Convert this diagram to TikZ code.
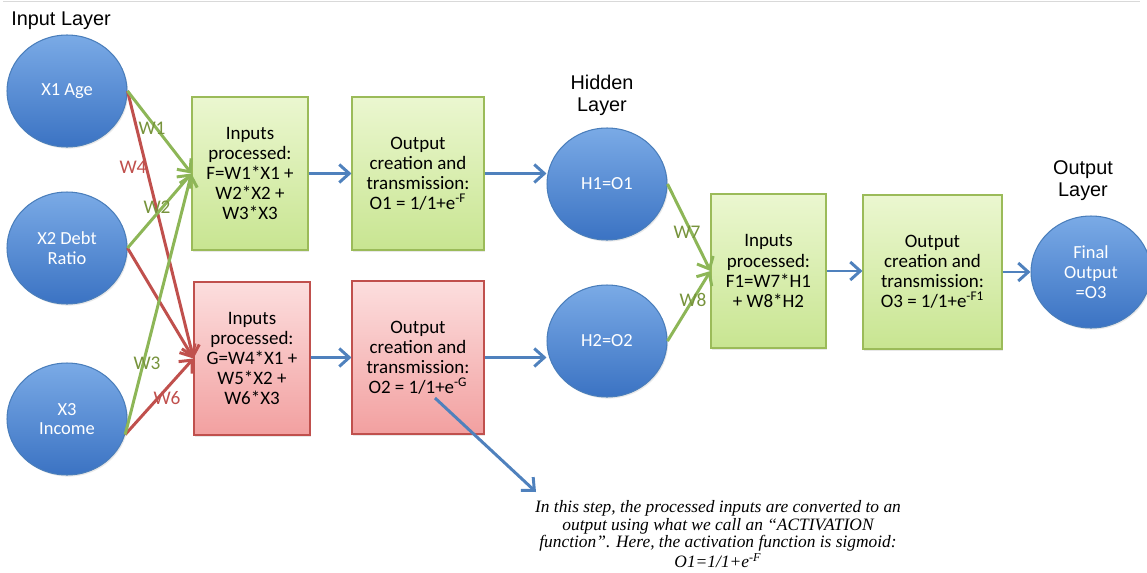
\documentclass[tikz,border=0pt]{standalone}
\usepackage{fontspec}
\setmainfont{Carlito}
\newfontfamily\headfont{Liberation Sans}
\newfontfamily\notefont{Liberation Serif}
\usetikzlibrary{arrows.meta,shapes.geometric,shadows}

\definecolor{neuronTop}{HTML}{7AAAE6}
\definecolor{neuronBot}{HTML}{3B73C3}
\definecolor{neuronLine}{HTML}{4A7EBB}
\definecolor{greenTop}{HTML}{EBF7D0}
\definecolor{greenBot}{HTML}{C8E591}
\definecolor{greenLine}{HTML}{9BBB59}
\definecolor{redTop}{HTML}{FCDEDE}
\definecolor{redBot}{HTML}{F2A0A0}
\definecolor{redLine}{HTML}{C0504D}
\definecolor{wGreen}{HTML}{8DB657}
\definecolor{wGreenText}{HTML}{77933C}
\definecolor{wRed}{HTML}{C0504D}
\definecolor{flowBlue}{HTML}{4F81BD}

\begin{document}
\begin{tikzpicture}[x=0.02cm,y=-0.02cm,
  soft shadow/.style={drop shadow={opacity=0.18,shadow xshift=0.7pt,shadow yshift=-0.9pt}},
  neuron/.style={ellipse, draw=neuronLine, line width=0.6pt,
    top color=neuronTop, bottom color=neuronBot,
    minimum width=2.4cm, minimum height=2.24cm, inner sep=0pt,
    text=white, align=center, font=\fontsize{10.5}{11.3}\selectfont, soft shadow},
  procbox/.style={rectangle, draw=greenLine, line width=0.6pt,
    top color=greenTop, bottom color=greenBot,
    minimum height=3.06cm, inner sep=0pt, align=center,
    font=\fontsize{10.8}{11.4}\selectfont, soft shadow},
  redbox/.style={procbox, draw=redLine, top color=redTop, bottom color=redBot},
  layer/.style={font=\headfont\fontsize{11.3}{12.6}\selectfont, align=center, inner sep=0pt},
  barb/.style={-{Straight Barb[length=2mm,width=3.6mm]}},
  flow/.style={draw=flowBlue, line width=1.7pt, barb},
  wgreen/.style={draw=wGreen, line width=1.7pt, barb},
  wred/.style={draw=wRed, line width=1.7pt, barb},
  wlabel/.style={font=\fontsize{11}{13}\selectfont, inner sep=0pt}
]
\path[use as bounding box] (0,0) rectangle (1147,572);
\clip (0,0) rectangle (1147,572);

% thin rule along the top
\draw[black!15, line width=0.8pt] (3,1.5) -- (1140,1.5);

% layer captions
\node[layer, anchor=west] (inlayer) at (11,21) {Input Layer};
\node[layer] (hidlayer) at (602,95) {Hidden\\Layer};
\node[layer] (outlayer) at (1083,181) {Output\\Layer};

% input neurons
\node[neuron] (x1) at (67,91)  {X1 Age};
\node[neuron] (x2) at (67,248) {X2 Debt\\Ratio};
\node[neuron] (x3) at (67,419) {X3\\Income};

% first processing stage
\node[procbox, minimum width=2.32cm] (g1) at (250,173.5)
  {Inputs\\processed:\\F=W1*X1 +\\W2*X2 +\\W3*X3};
\node[redbox, minimum width=2.32cm] (r1) at (252,358.5)
  {Inputs\\processed:\\G=W4*X1 +\\W5*X2 +\\W6*X3};
\node[procbox, minimum width=2.64cm] (g2) at (418,173.5)
  {Output\\creation and\\transmission:\\O1 = 1/1+e\textsuperscript{-F}};
\node[redbox, minimum width=2.64cm] (r2) at (418,357.5)
  {Output\\creation and\\transmission:\\O2 = 1/1+e\textsuperscript{-G}};

% hidden neurons
\node[neuron] (h1) at (607,184) {H1=O1};
\node[neuron] (h2) at (607,341) {H2=O2};

% second processing stage
\node[procbox, minimum width=2.3cm, minimum height=3.08cm] (g3) at (768.5,271)
  {Inputs\\processed:\\F1=W7*H1\\+ W8*H2};
\node[procbox, minimum width=2.78cm, minimum height=3.08cm] (g4) at (932.5,272)
  {Output\\creation and\\transmission:\\O3 = 1/1+e\textsuperscript{-F1}};

% output neuron
\node[neuron] (fo) at (1091,272) {Final\\Output\\=O3};

% weighted connections into the first stage
\draw[wred]   (x1.east) -- (r1.west);
\draw[wred]   (x2.east) -- (r1.west);
\draw[wred]   (x3.-15)  -- (r1.west);
\draw[wgreen] (x1.east) -- (g1.west);
\draw[wgreen] (x2.east) -- (g1.west);
\draw[wgreen] (x3.-15)  -- (g1.west);

\node[wlabel, text=wGreenText] (w1) at (152,128) {W1};
\node[wlabel, text=wGreenText] (w2) at (157,207) {W2};
\node[wlabel, text=wGreenText] (w3) at (147,363) {W3};
\node[wlabel, text=wRed]       (w4) at (133,167) {W4};
\node[wlabel, text=wRed]       (w6) at (167,398) {W6};

% flow between stages
\draw[flow] (g1.east) -- (g2.west);
\draw[flow] (r1.east |- r2.west) -- (r2.west);
\draw[flow] (g2.east) -- (h1.west |- g2.east);
\draw[flow] (r2.east) -- (h2.west |- r2.east);

% weighted connections into the second stage
\draw[wgreen] (h1.east) -- (g3.west);
\draw[wgreen] (h2.east) -- (g3.west);
\node[wlabel, text=wGreenText] (w7) at (687,232) {W7};
\node[wlabel, text=wGreenText] (w8) at (693,300) {W8};

\draw[flow] (g3.east) -- (g4.west |- g3.east);
\draw[flow] (g4.east) -- (fo.west |- g4.east);

% explanatory note
\node[font=\notefont\itshape\fontsize{9.9}{10.2}\selectfont, align=center, inner sep=0pt]
  (note) at (718,534)
  {In this step, the processed inputs are converted to an\\
   output using what we call an “ACTIVATION\\
   function”. Here, the activation function is sigmoid:\\
   O1=1/1+e\textsuperscript{-F}};
\coordinate (noteStart) at (435,398);
\coordinate (noteEnd) at (536,492);
\draw[flow] (noteStart) -- (noteEnd);
\end{tikzpicture}
\end{document}
